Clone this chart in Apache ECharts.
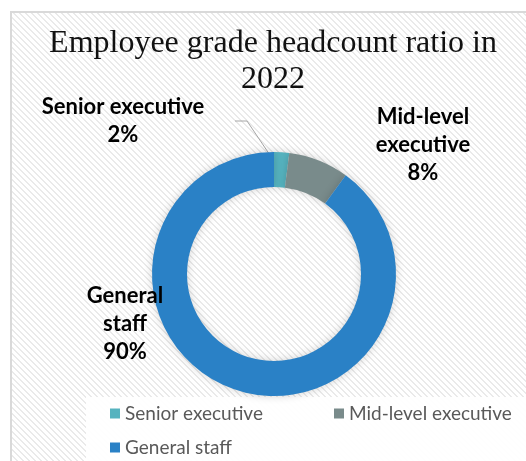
<!DOCTYPE html>
<html>
<head>
<meta charset="utf-8">
<script src="https://cdn.jsdelivr.net/npm/echarts@6/dist/echarts.min.js"></script>
<style>
  html, body { margin: 0; padding: 0; background: #fff; }
  #main { width: 526px; height: 461px; }
</style>
</head>
<body>
<div id="main"></div>
<script>
// data
const categories = ["Senior executive", "Mid-level executive", "General staff"];
const shares = [2, 8, 90];
const labelNames = ["Senior executive", "Mid-level\nexecutive", "General\nstaff"];
const colors = ["#56b3bf", "#798b8b", "#2a81c6"];

// diagonal stripe texture for the chart background
function stripes() {
  const c = document.createElement("canvas");
  c.width = 6;
  c.height = 6;
  const ctx = c.getContext("2d");
  const img = ctx.createImageData(6, 6);
  for (let y = 0; y < 6; y++) {
    for (let x = 0; x < 6; x++) {
      const k = (x - y + 12) % 6;
      const v = k < 2 ? 234 : 255;
      const i = (y * 6 + x) * 4;
      img.data[i] = v; img.data[i + 1] = v; img.data[i + 2] = v; img.data[i + 3] = 255;
    }
  }
  ctx.putImageData(img, 0, 0);
  return c;
}

const chart = echarts.init(document.getElementById("main"));

let pieData = [];
for (let i = 0; i < categories.length; i++) {
  pieData.push({
    name: categories[i],
    value: shares[i],
    itemStyle: { color: colors[i] },
    labelLine: { show: i == 0 }
  });
}

// where Excel put the data labels
const labelPos = [
  { x: 123, y: 121, line: [[235, 121], [247, 121], [280, 170]] },
  { x: 423, y: 145 },
  { x: 125, y: 324 }
];

function legendFor(name, left, top) {
  return {
    data: [name],
    left: left,
    top: top,
    icon: "rect",
    itemWidth: 10,
    itemHeight: 10,
    padding: 0,
    selectedMode: false,
    textStyle: { color: "#595959", fontSize: 19, fontFamily: "Lato" }
  };
}

const option = {
  backgroundColor: "#fff",
  graphic: [
    {
      type: "rect",
      z: -10,
      shape: { x: 11, y: 12, width: 540, height: 470 },
      style: { fill: { image: stripes(), repeat: "repeat" }, stroke: "#d9d9d9", lineWidth: 2 }
    },
    {
      type: "rect",
      z: -9,
      shape: { x: 86, y: 397, width: 460, height: 70 },
      style: { fill: "rgba(255,255,255,0.92)" }
    }
  ],
  title: {
    text: "Employee grade headcount ratio in\n2022",
    left: 273,
    textAlign: "center",
    top: 26,
    padding: 0,
    textStyle: {
      fontFamily: "Liberation Serif",
      fontWeight: "normal",
      fontSize: 32,
      lineHeight: 36,
      color: "#111"
    }
  },
  legend: [
    legendFor(categories[0], 110, 404),
    legendFor(categories[1], 334, 404),
    legendFor(categories[2], 110, 438)
  ],
  series: [
    {
      type: "pie",
      radius: [87, 122],
      center: [274, 274],
      startAngle: 90,
      clockwise: true,
      avoidLabelOverlap: false,
      itemStyle: {
        shadowBlur: 8,
        shadowColor: "rgba(0,0,0,0.18)"
      },
      label: {
        show: true,
        position: "outside",
        formatter: function (p) {
          return labelNames[p.dataIndex] + "\n" + p.value + "%";
        },
        color: "#000",
        fontFamily: "Lato",
        fontWeight: "bold",
        fontSize: 22,
        lineHeight: 28,
        align: "center"
      },
      labelLine: {
        lineStyle: { color: "#a6a6a6", width: 1 }
      },
      labelLayout: function (params) {
        const p = labelPos[params.dataIndex];
        const out = { x: p.x, y: p.y, align: "center", verticalAlign: "middle" };
        if (p.line) out.labelLinePoints = p.line;
        return out;
      },
      emphasis: { disabled: true },
      data: pieData
    }
  ]
};

chart.setOption(option);
</script>
</body>
</html>
